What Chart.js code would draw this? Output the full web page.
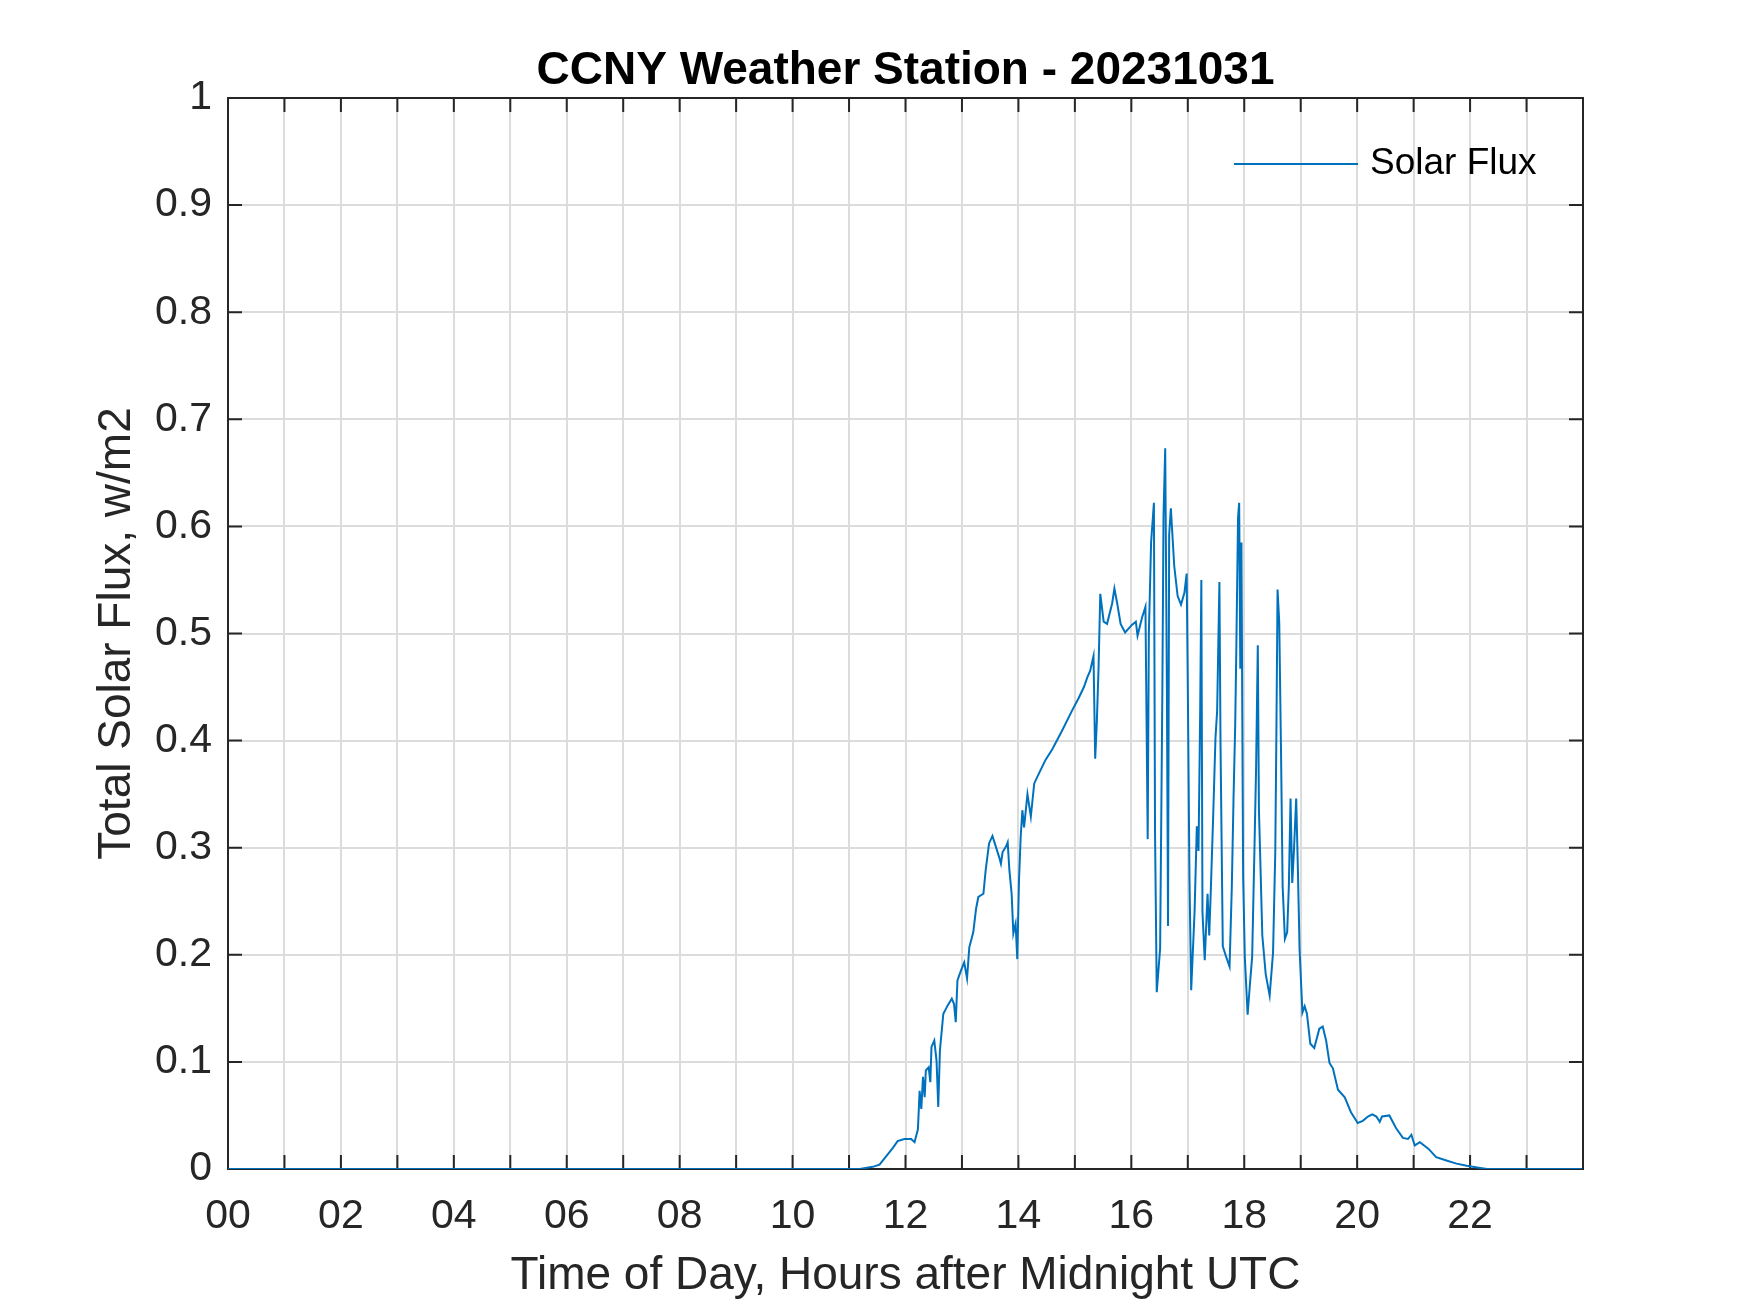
<!DOCTYPE html>
<html>
<head>
<meta charset="utf-8">
<script src="https://cdn.jsdelivr.net/npm/chart.js@4.4.1/dist/chart.umd.min.js"></script>
<style>
  html, body { margin: 0; padding: 0; background: #fff; }
  #wrap { width: 1750px; height: 1313px; }
</style>
</head>
<body>
<div id="wrap"><canvas id="fluxChart" width="1750" height="1313"></canvas></div>
<script>
// Time of day (hours after midnight UTC) and solar flux
const hours = [
  0, 11.19, 11.42, 11.54, 11.66, 11.78, 11.86, 11.98, 12.1, 12.16,
  12.22, 12.25, 12.28, 12.31, 12.34, 12.36, 12.41, 12.44, 12.46, 12.51,
  12.55, 12.58, 12.61, 12.67, 12.75, 12.82, 12.86, 12.89, 12.92, 12.98,
  13.04, 13.09, 13.13, 13.2, 13.25, 13.29, 13.38, 13.42, 13.48, 13.54,
  13.6, 13.66, 13.69, 13.72, 13.78, 13.81, 13.84, 13.88, 13.91, 13.95,
  13.98, 14.01, 14.04, 14.07, 14.1, 14.16, 14.22, 14.28, 14.36, 14.48,
  14.6, 14.77, 14.95, 15.07, 15.16, 15.22, 15.27, 15.33, 15.36, 15.39,
  15.42, 15.45, 15.51, 15.57, 15.66, 15.7, 15.75, 15.81, 15.89, 16.01,
  16.08, 16.11, 16.19, 16.25, 16.29, 16.31, 16.35, 16.4, 16.42, 16.45,
  16.51, 16.55, 16.57, 16.6, 16.63, 16.65, 16.67, 16.7, 16.76, 16.82,
  16.88, 16.94, 16.98, 17.0, 17.03, 17.06, 17.12, 17.16, 17.19, 17.22,
  17.24, 17.26, 17.3, 17.35, 17.38, 17.41, 17.45, 17.49, 17.52, 17.56,
  17.58, 17.62, 17.68, 17.74, 17.78, 17.81, 17.84, 17.86, 17.89, 17.91,
  17.93, 17.95, 17.98, 18.01, 18.06, 18.1, 18.14, 18.18, 18.21, 18.24,
  18.26, 18.28, 18.32, 18.38, 18.45, 18.51, 18.55, 18.57, 18.59, 18.62,
  18.65, 18.68, 18.72, 18.76, 18.79, 18.82, 18.85, 18.88, 18.92, 18.95,
  18.98, 19.03, 19.07, 19.11, 19.17, 19.24, 19.33, 19.39, 19.45, 19.51,
  19.57, 19.66, 19.78, 19.89, 20.01, 20.1, 20.19, 20.27, 20.34, 20.4,
  20.44, 20.57, 20.69, 20.81, 20.9, 20.96, 21.02, 21.11, 21.26, 21.4,
  21.58, 21.76, 21.94, 22.18, 22.3, 23.98
];
const flux = [
  0, 0, 0.002, 0.004, 0.012, 0.02, 0.026, 0.028, 0.028, 0.025,
  0.037, 0.073, 0.056, 0.086, 0.067, 0.092, 0.095, 0.081, 0.114, 0.12,
  0.101, 0.058, 0.111, 0.145, 0.153, 0.159, 0.154, 0.137, 0.176, 0.185,
  0.193, 0.178, 0.207, 0.221, 0.243, 0.254, 0.257, 0.279, 0.304, 0.311,
  0.301, 0.291, 0.285, 0.296, 0.301, 0.305, 0.279, 0.257, 0.22, 0.229,
  0.196, 0.269, 0.31, 0.335, 0.319, 0.35, 0.329, 0.36, 0.369, 0.382,
  0.392, 0.409, 0.428, 0.44, 0.45, 0.459, 0.465, 0.479, 0.383, 0.419,
  0.469, 0.537, 0.511, 0.509, 0.528, 0.542, 0.528, 0.509, 0.501, 0.508,
  0.511, 0.498, 0.515, 0.525, 0.308, 0.499, 0.585, 0.622, 0.313, 0.165,
  0.206, 0.449, 0.61, 0.673, 0.449, 0.227, 0.592, 0.617, 0.563, 0.535,
  0.527, 0.538, 0.556, 0.452, 0.27, 0.167, 0.24, 0.32, 0.297, 0.43,
  0.55, 0.24, 0.195, 0.257, 0.218, 0.264, 0.33, 0.402, 0.428, 0.548,
  0.395, 0.208, 0.198, 0.189, 0.264, 0.346, 0.415, 0.487, 0.608, 0.622,
  0.467, 0.585, 0.274, 0.198, 0.144, 0.172, 0.198, 0.297, 0.375, 0.489,
  0.336, 0.297, 0.218, 0.182, 0.162, 0.202, 0.297, 0.411, 0.541, 0.51,
  0.395, 0.264, 0.215, 0.221, 0.264, 0.346, 0.267, 0.297, 0.346, 0.28,
  0.205, 0.146, 0.152, 0.145, 0.117, 0.113, 0.131, 0.133, 0.12, 0.099,
  0.094, 0.074, 0.067, 0.053, 0.043, 0.045, 0.049, 0.051, 0.049, 0.044,
  0.049, 0.05, 0.038, 0.029, 0.028, 0.032, 0.022, 0.025, 0.019, 0.011,
  0.008, 0.005, 0.003, 0.001, 0, 0
];
const xTickLabels = ['00', '02', '04', '06', '08', '10', '12', '14', '16', '18', '20', '22'];
const yTickLabels = ['0', '0.1', '0.2', '0.3', '0.4', '0.5', '0.6', '0.7', '0.8', '0.9', '1'];

const FONT = 'Liberation Sans, Arial, Helvetica, sans-serif';
const AXIS_COLOR = '#262626';

// MATLAB style box with inward ticks on all four sides
const axesBox = {
  id: 'axesBox',
  beforeDatasetsDraw(chart) {
    const { ctx, chartArea: a, scales: { x, y } } = chart;
    const len = 14;
    ctx.save();
    ctx.strokeStyle = AXIS_COLOR;
    ctx.lineWidth = 2;
    ctx.beginPath();
    x.ticks.forEach(t => {
      const px = x.getPixelForValue(t.value);
      ctx.moveTo(px, a.bottom); ctx.lineTo(px, a.bottom - len);
      ctx.moveTo(px, a.top); ctx.lineTo(px, a.top + len);
    });
    y.ticks.forEach(t => {
      const py = y.getPixelForValue(t.value);
      ctx.moveTo(a.left, py); ctx.lineTo(a.left + len, py);
      ctx.moveTo(a.right, py); ctx.lineTo(a.right - len, py);
    });
    ctx.stroke();
    ctx.strokeRect(a.left, a.top, a.right - a.left, a.bottom - a.top);
    ctx.restore();
  }
};

// legend in the top right corner, no box
const lineLegend = {
  id: 'lineLegend',
  afterDatasetsDraw(chart) {
    const { ctx, chartArea: a } = chart;
    const ds = chart.data.datasets[0];
    const ly = a.top + 66;
    ctx.save();
    ctx.strokeStyle = ds.borderColor;
    ctx.lineWidth = ds.borderWidth;
    ctx.beginPath();
    ctx.moveTo(a.right - 349, ly);
    ctx.lineTo(a.right - 225, ly);
    ctx.stroke();
    ctx.fillStyle = '#000';
    ctx.font = '37px ' + FONT;
    ctx.textBaseline = 'middle';
    ctx.textAlign = 'left';
    ctx.fillText(ds.label, a.right - 213, ly);
    ctx.restore();
  }
};

new Chart(document.getElementById('fluxChart'), {
  type: 'line',
  data: {
    datasets: [{
      label: 'Solar Flux',
      data: hours.map((h, i) => ({ x: h, y: flux[i] })),
      borderColor: '#0072BD',
      borderWidth: 2,
      pointRadius: 0,
      tension: 0,
      fill: false
    }]
  },
  options: {
    responsive: false,
    animation: false,
    devicePixelRatio: 1,
    layout: { padding: { left: 0, right: 167, top: 0, bottom: 0 } },
    plugins: {
      legend: { display: false },
      tooltip: { enabled: false },
      title: {
        display: true,
        fullSize: false,
        text: 'CCNY Weather Station - 20231031',
        color: '#000',
        font: { family: FONT, size: 46, weight: 'bold', lineHeight: 53 / 46 },
        padding: { top: 45, bottom: 0 }
      }
    },
    scales: {
      x: {
        type: 'linear',
        min: 0,
        max: 24,
        afterFit: s => { s.height = 144; },
        border: { display: false },
        grid: { color: '#dcdcdc', lineWidth: 2, drawTicks: false },
        ticks: {
          stepSize: 1,
          autoSkip: false,
          maxRotation: 0,
          padding: 23,
          color: AXIS_COLOR,
          font: { family: FONT, size: 41 },
          callback: v => (v % 2 === 0 && v < 24) ? xTickLabels[v / 2] : ''
        },
        title: {
          display: true,
          text: 'Time of Day, Hours after Midnight UTC',
          color: AXIS_COLOR,
          font: { family: FONT, size: 46 },
          padding: { top: 0, bottom: 9 }
        }
      },
      y: {
        min: 0,
        max: 1,
        afterFit: s => { s.width = 228; },
        border: { display: false },
        grid: { color: '#dcdcdc', lineWidth: 2, drawTicks: false },
        ticks: {
          stepSize: 0.1,
          padding: 16,
          color: AXIS_COLOR,
          font: { family: FONT, size: 41 },
          callback: v => yTickLabels[Math.round(v * 10)]
        },
        title: {
          display: true,
          text: 'Total Solar Flux, w/m2',
          color: AXIS_COLOR,
          font: { family: FONT, size: 46 },
          padding: { top: 90, bottom: 0 }
        }
      }
    }
  },
  plugins: [axesBox, lineLegend]
});
</script>
</body>
</html>
